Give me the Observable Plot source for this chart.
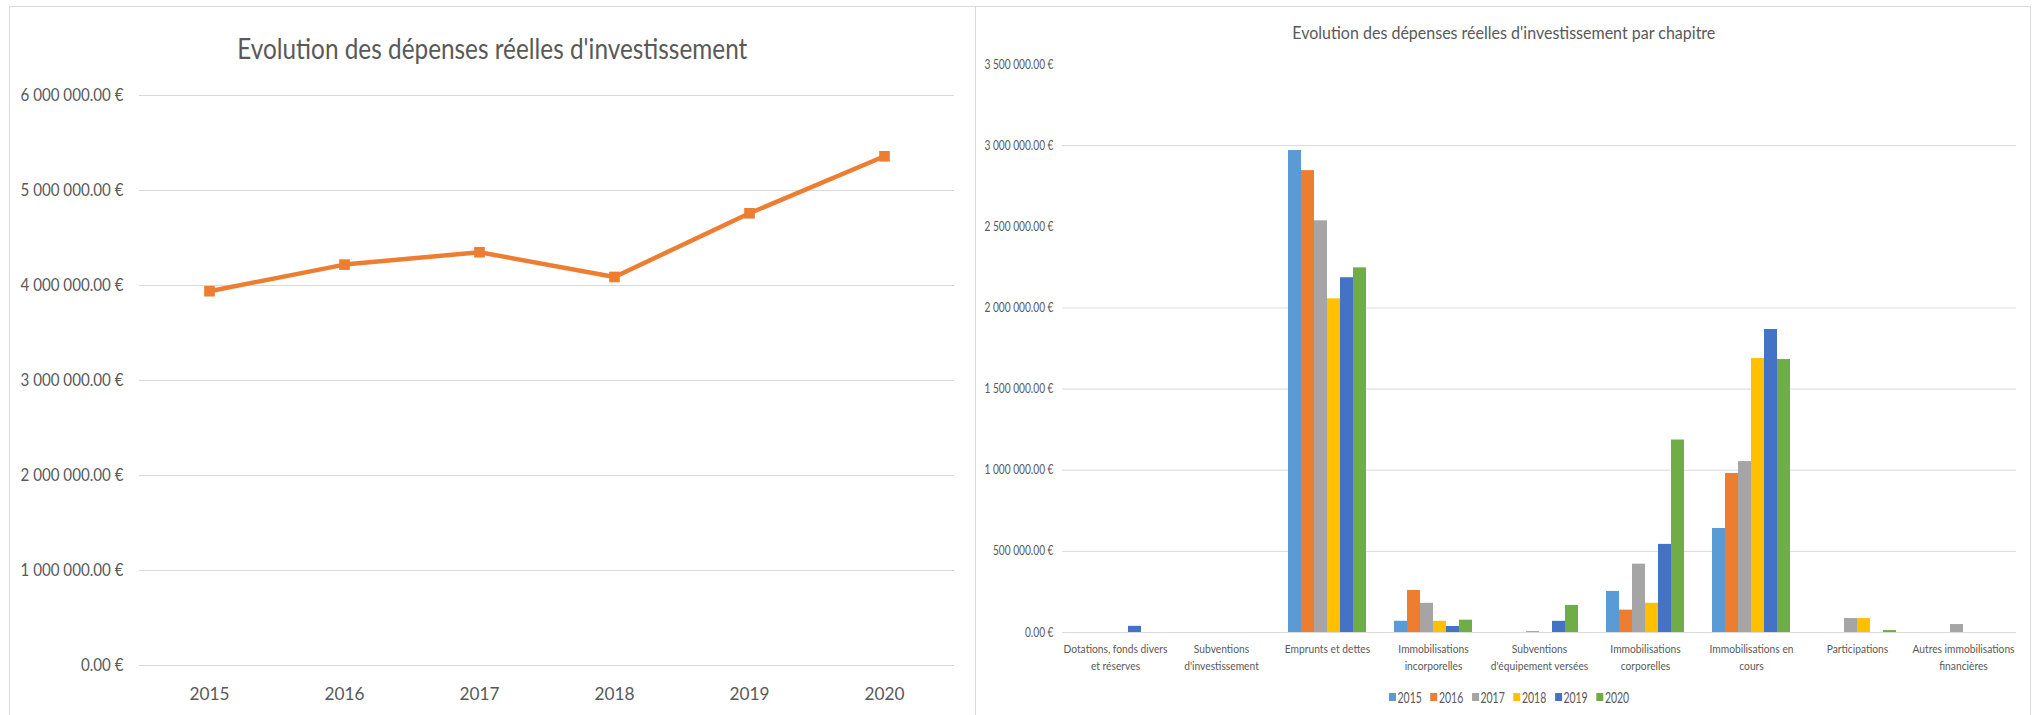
<!DOCTYPE html>
<html>
<head>
<meta charset="utf-8">
<script src="https://cdn.jsdelivr.net/npm/d3@7"></script>
<script src="https://cdn.jsdelivr.net/npm/@observablehq/plot@0.6"></script>
<style>
  html, body { margin: 0; padding: 0; background: #fff; width: 2035px; height: 715px; overflow: hidden; font-family: Lato, "Open Sans", sans-serif; }
  .frame { position: absolute; border: 1px solid #d9d9d9; box-sizing: border-box; pointer-events: none; }
  .abs { position: absolute; }
  .title { position: absolute; white-space: nowrap; color: #595959; font-family: Lato, sans-serif; line-height: 1; }
  .leg-swatches { margin: 0 !important; min-height: 0 !important; }
  .leg-swatch > svg { margin-right: var(--sgap) !important; }
  .leg-swatch { margin-right: var(--gap) !important; }
</style>
</head>
<body>
<div id="left" class="abs" style="left:0;top:0;width:975px;height:715px"></div>
<div id="right" class="abs" style="left:976px;top:0;width:1059px;height:715px"></div>
<div class="frame" style="left:9px;top:6px;width:967px;height:760px"></div>
<div class="frame" style="left:975px;top:6px;width:1056px;height:760px"></div>
<div id="t1" class="title" style="font-size:28px">Evolution des dépenses réelles d'investissement</div>
<div id="t2" class="title" style="font-size:18px">Evolution des dépenses réelles d'investissement par chapitre</div>
<div id="legend" class="abs"></div>
<script>
// ---------- data ----------
const years = ["2015", "2016", "2017", "2018", "2019", "2020"];
const totalSpending = [3940000, 4220000, 4350000, 4090000, 4760000, 5360000];
const leftTickValues = [0, 1000000, 2000000, 3000000, 4000000, 5000000, 6000000];

const categories = [
  "Dotations, fonds divers et réserves",
  "Subventions d'investissement",
  "Emprunts et dettes",
  "Immobilisations incorporelles",
  "Subventions d'équipement versées",
  "Immobilisations corporelles",
  "Immobilisations en cours",
  "Participations",
  "Autres immobilisations financières"
];
const categoryLabels = [
  "Dotations, fonds divers\net réserves",
  "Subventions\nd'investissement",
  "Emprunts et dettes",
  "Immobilisations\nincorporelles",
  "Subventions\nd'équipement versées",
  "Immobilisations\ncorporelles",
  "Immobilisations en\ncours",
  "Participations",
  "Autres immobilisations\nfinancières"
];
const s2015 = [0, 0, 2970000, 69000, 0, 253000, 641000, 0, 0];
const s2016 = [0, 0, 2846000, 259000, 0, 138000, 980000, 0, 0];
const s2017 = [0, 0, 2537000, 180000, 6000, 421000, 1053000, 86000, 49000];
const s2018 = [0, 0, 2056000, 69000, 0, 180000, 1688000, 86000, 0];
const s2019 = [38000, 0, 2186000, 37000, 69000, 543000, 1867000, 0, 0];
const s2020 = [0, 0, 2247000, 76000, 167000, 1186000, 1682000, 12000, 0];
const yearColors = ["#5B9BD5", "#ED7D31", "#A5A5A5", "#FFC000", "#4472C4", "#70AD47"];
const rightTickValues = [0, 500000, 1000000, 1500000, 2000000, 2500000, 3000000, 3500000];
const rightGridValues = [0, 500000, 1000000, 1500000, 2000000, 3000000];

// ---------- helpers ----------
const fmtEuro = v => d3.format(",.2f")(v).replace(/,/g, " ") + " €";

function squeeze(svg, aria, refText, target) {
  const g = svg.querySelector(`g[aria-label="${aria}"]`);
  if (!g) return;
  const units = [...g.querySelectorAll("text")].flatMap(t => {
    const sp = [...t.querySelectorAll("tspan")];
    return sp.length ? sp : [t];
  });
  const ref = units.find(u => u.textContent === refText);
  if (!ref) return;
  const f = target / ref.getComputedTextLength();
  const lens = units.map(u => u.getComputedTextLength());
  units.forEach((u, i) => {
    u.setAttribute("textLength", lens[i] * f);
    u.setAttribute("lengthAdjust", "spacingAndGlyphs");
  });
}

function placeText(el, cx, cy, target) {
  const r = el.getBoundingClientRect();
  el.style.left = (cx - r.width / 2) + "px";
  el.style.top = (cy - r.height / 2) + "px";
  el.style.transform = `scaleX(${target / r.width})`;
  el.style.transformOrigin = "50% 50%";
}

// ---------- left chart ----------
const lineData = years.map((y, i) => ({year: y, total: totalSpending[i]}));
const leftPlot = Plot.plot({
  width: 975, height: 715,
  marginLeft: 139, marginRight: 21, marginTop: 95, marginBottom: 50,
  style: {fontFamily: "Lato, sans-serif", color: "#595959", background: "none", maxWidth: "none"},
  x: {type: "point", domain: years, padding: 0.5},
  y: {domain: [0, 6000000]},
  marks: [
    Plot.ruleY(leftTickValues, {stroke: "#d9d9d9", strokeWidth: 1}),
    Plot.axisY(leftTickValues, {tickSize: 0, tickPadding: 16, tickFormat: fmtEuro, fontSize: 17.5, label: null}),
    Plot.axisX({tickSize: 0, tickPadding: 22, fontSize: 18, label: null}),
    Plot.lineY(lineData, {x: "year", y: "total", stroke: "#ED7D31", strokeWidth: 4.5}),
    Plot.dot(lineData, {x: "year", y: "total", symbol: "square", r: 6, fill: "#ED7D31"})
  ]
});
document.getElementById("left").appendChild(leftPlot);

// ---------- right chart ----------
const series = [s2015, s2016, s2017, s2018, s2019, s2020];
const barData = [];
categories.forEach((c, i) => years.forEach((yr, j) => barData.push({category: c, year: yr, value: series[j][i]})));
const labelOf = new Map(categories.map((c, i) => [c, categoryLabels[i]]));

const rightPlot = Plot.plot({
  width: 1059, height: 715,
  marginLeft: 84, marginRight: 17, marginTop: 64, marginBottom: 83,
  style: {fontFamily: "Lato, sans-serif", color: "#595959", background: "none", maxWidth: "none"},
  fx: {domain: categories, padding: 0, label: null},
  x: {domain: years, axis: null, paddingInner: 0, paddingOuter: 0.94},
  y: {domain: [0, 3500000]},
  color: {type: "ordinal", domain: years, range: yearColors},
  marks: [
    Plot.ruleY(rightGridValues, {stroke: "#d9d9d9", strokeWidth: 1}),
    Plot.barY(barData, {fx: "category", x: "year", y: "value", fill: "year"}),
    Plot.axisY(rightTickValues, {tickSize: 0, tickPadding: 9, tickFormat: fmtEuro, fontSize: 12.5, label: null}),
    Plot.axisFx({anchor: "bottom", tickSize: 0, tickPadding: 9, tickFormat: c => labelOf.get(c), fontSize: 11.5, lineHeight: 1.45, label: null})
  ]
});
document.getElementById("right").appendChild(rightPlot);

// condensed look of the original text
squeeze(leftPlot, "y-axis tick label", "6 000 000.00 €", 103);
squeeze(leftPlot, "x-axis tick label", "2015", 40);
squeeze(rightPlot, "y-axis tick label", "3 500 000.00 €", 69);
squeeze(rightPlot, "fx-axis tick label", "Dotations, fonds divers", 104);

// titles
placeText(document.getElementById("t1"), 492, 48, 510);
placeText(document.getElementById("t2"), 1504, 32, 423);

// legend
const probe = document.createElement("span");
probe.style.cssText = "position:absolute;visibility:hidden;font:15px Lato, sans-serif;white-space:nowrap";
probe.textContent = "2015";
document.body.appendChild(probe);
const fL = 24.3 / probe.getBoundingClientRect().width;
probe.remove();
const legend = Plot.legend({
  color: {type: "ordinal", domain: years, range: yearColors},
  swatchWidth: 7 / fL, swatchHeight: 8,
  className: "leg",
  style: {fontFamily: "Lato, sans-serif", fontSize: "15px", color: "#595959"}
});
const legHost = document.getElementById("legend");
legHost.style.setProperty("--gap", (8.7 / fL) + "px");
legHost.style.setProperty("--sgap", (1.5 / fL) + "px");
legHost.appendChild(legend);
const lr = legHost.getBoundingClientRect();
legHost.style.left = "1389px";
legHost.style.top = (697 - lr.height / 2) + "px";
legHost.style.transform = `scaleX(${fL})`;
legHost.style.transformOrigin = "0 50%";
legHost.style.whiteSpace = "nowrap";
</script>
</body>
</html>
